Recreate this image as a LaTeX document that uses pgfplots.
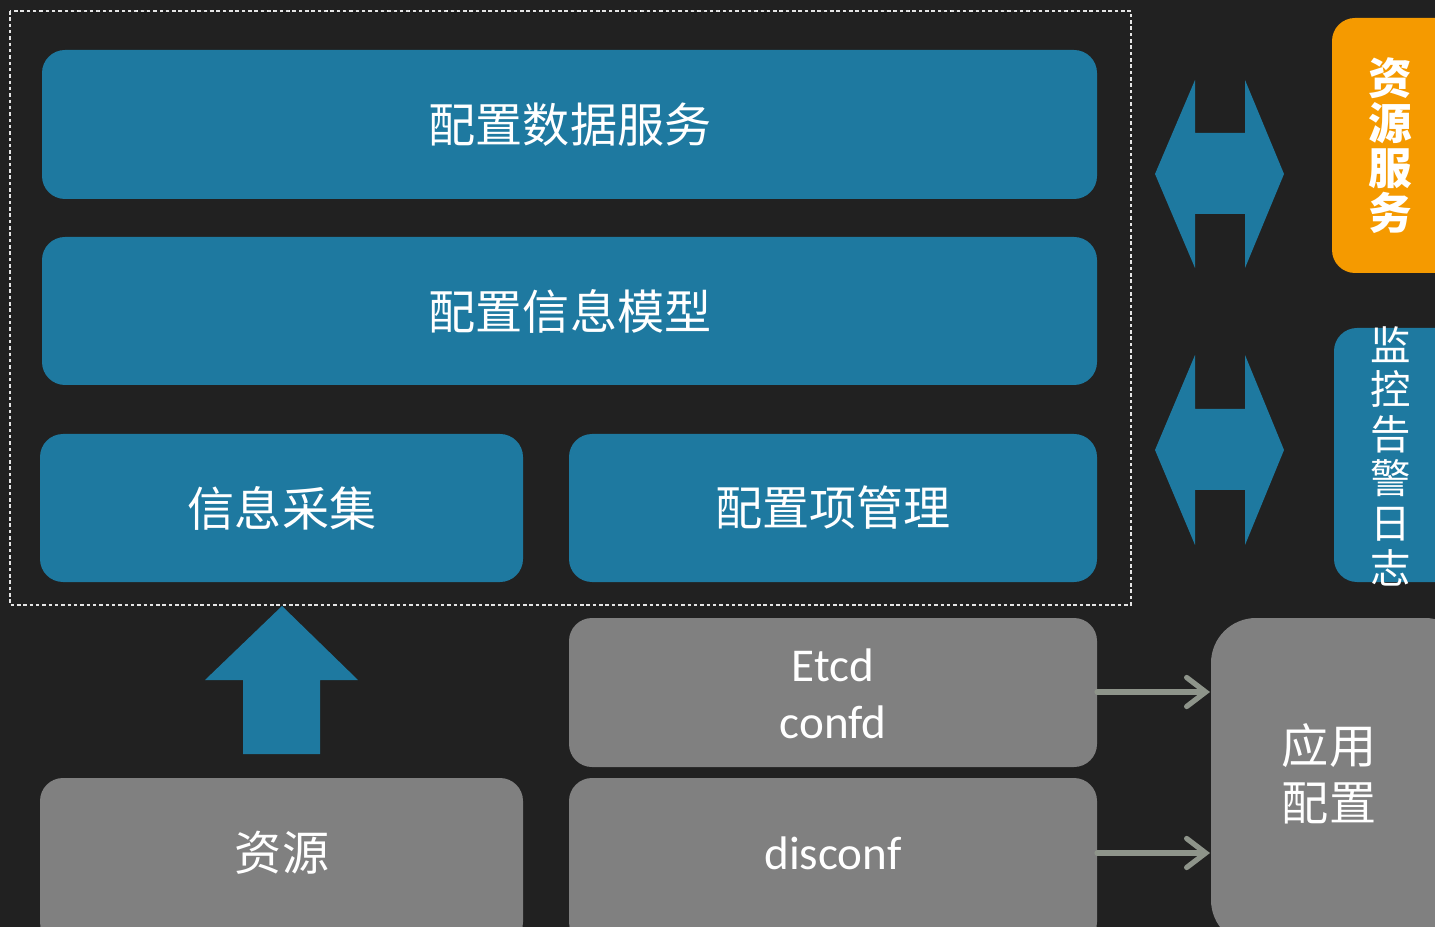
\documentclass[border=0pt]{standalone}
\usepackage{pgfplots}
\pgfplotsset{compat=1.18}
\usetikzlibrary{arrows.meta}
\usepackage{fontspec}
\setmainfont{Carlito}
\newfontfamily\cjk{Noto Sans CJK SC}
\definecolor{bg}{RGB}{33,33,33}
\definecolor{boxblue}{RGB}{30,121,160}
\definecolor{boxorange}{RGB}{245,154,0}
\definecolor{boxgray}{RGB}{128,128,128}
\definecolor{arrgray}{RGB}{142,148,138}
\begin{document}
\begin{tikzpicture}
\begin{axis}[
  width=143.5mm, height=92.7mm, scale only axis,
  xmin=0, xmax=1435, ymin=0, ymax=927, y dir=reverse,
  hide axis, clip=true,
]
% background
\fill[bg] (axis cs:-5,-5) rectangle (axis cs:1440,932);
\coordinate (TL) at (axis cs:0,0);
\coordinate (BR) at (axis cs:1435,927);

% dashed frame
\draw[white!80!gray, line width=0.4pt, dash pattern=on 1pt off 0.8pt]
  (axis cs:10,11) rectangle (axis cs:1131,605);

% blue boxes
\tikzset{bx/.style={rounded corners=2.3mm}}
\fill[boxblue,bx] (axis cs:42,50) rectangle (axis cs:1097,199);
\fill[boxblue,bx] (axis cs:42,237) rectangle (axis cs:1097,385);
\fill[boxblue,bx] (axis cs:40,434) rectangle (axis cs:523,582);
\fill[boxblue,bx] (axis cs:569,434) rectangle (axis cs:1097,582);

% gray boxes
\fill[boxgray,bx] (axis cs:40,778) rectangle (axis cs:523,945);
\fill[boxgray,bx] (axis cs:569,618) rectangle (axis cs:1097,767);
\fill[boxgray,bx] (axis cs:569,778) rectangle (axis cs:1097,945);
\fill[boxgray,rounded corners=4.5mm] (axis cs:1211,618) rectangle (axis cs:1470,945);

% right side boxes
\fill[boxorange,bx] (axis cs:1332,18) rectangle (axis cs:1470,273);
\fill[boxblue,bx] (axis cs:1334,328) rectangle (axis cs:1470,582);

% up arrow
\fill[boxblue] (axis cs:282,606) -- (axis cs:358,680) -- (axis cs:320,680)
  -- (axis cs:320,754) -- (axis cs:243,754) -- (axis cs:243,680)
  -- (axis cs:205,680) -- cycle;

% double arrows
\fill[boxblue] (axis cs:1155,174) -- (axis cs:1195,80) -- (axis cs:1195,133)
  -- (axis cs:1245,133) -- (axis cs:1245,80) -- (axis cs:1284,174)
  -- (axis cs:1245,268) -- (axis cs:1245,214) -- (axis cs:1195,214)
  -- (axis cs:1195,268) -- cycle;
\fill[boxblue] (axis cs:1155,450) -- (axis cs:1195,355) -- (axis cs:1195,409)
  -- (axis cs:1245,409) -- (axis cs:1245,355) -- (axis cs:1284,450)
  -- (axis cs:1245,545) -- (axis cs:1245,490) -- (axis cs:1195,490)
  -- (axis cs:1195,545) -- cycle;

% gray arrows
\tikzset{ga/.style={arrgray, line width=1.5pt, line cap=round,
  -{Straight Barb[length=1.9mm,width=2.9mm,line cap=round]}}}
\draw[ga] (axis cs:1097,692) -- (axis cs:1210,692);
\draw[ga] (axis cs:1097,853) -- (axis cs:1210,853);

% texts
\tikzset{cj/.style={text=white, font={\cjk\fontsize{13.4}{16.2}\selectfont}, align=center, inner sep=0pt}}
\node[cj] at (axis cs:570,125) {配置数据服务};
\node[cj] at (axis cs:570,311) {配置信息模型};
\node[cj] at (axis cs:282,508) {信息采集};
\node[cj] at (axis cs:833,508) {配置项管理};
\node[cj] at (axis cs:282,853) {资源};
\node[cj] at (axis cs:1329,774) {应用\\配置};
\node[text=white, font={\fontsize{13.4}{16.2}\selectfont}, align=center, inner sep=0pt]
  at (axis cs:833,694) {Etcd\\confd};
\node[text=white, font={\fontsize{13.4}{16.2}\selectfont}, inner sep=0pt]
  at (axis cs:833,853) {disconf};
\node[text=white, font={\cjk\bfseries\fontsize{12.4}{12.8}\selectfont}, align=center, inner sep=0pt]
  at (axis cs:1390,146) {资\\源\\服\\务};
\node[text=white, font={\cjk\fontsize{11.5}{12.7}\selectfont}, align=center, inner sep=0pt]
  at (axis cs:1391,456) {监\\控\\告\\警\\日\\志};
\end{axis}
\pgfresetboundingbox
\path (TL) rectangle (BR);
\end{tikzpicture}
\end{document}
